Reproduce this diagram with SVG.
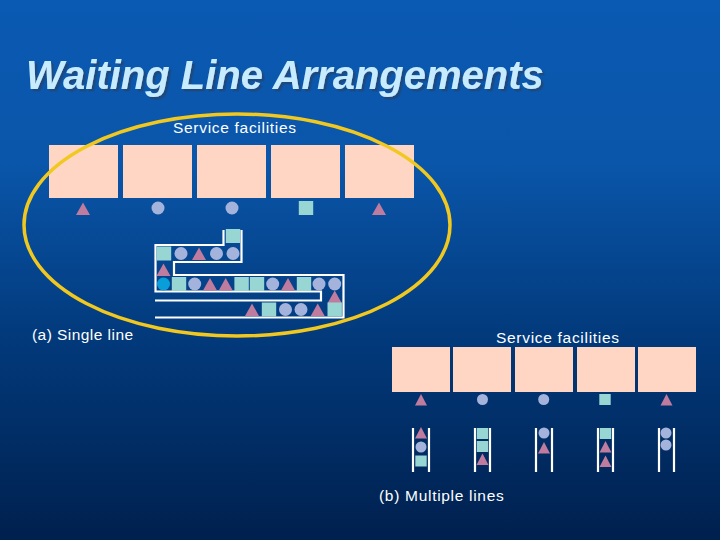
<svg xmlns="http://www.w3.org/2000/svg" width="720" height="540" viewBox="0 0 720 540">
<style>
text{font-family:"Liberation Sans",Arial,sans-serif}
.lbl{fill:#fff;font-size:15.500px;letter-spacing:.7px}
.title{font-size:40px;font-weight:bold;font-style:italic;fill:#c8ecff}
.fac{fill:#ffd6c4}
.wall{fill:none;stroke:#fff;stroke-width:2.2}
</style>
<defs>
<linearGradient id="bg" x1="0" y1="0" x2="0" y2="1">
<stop offset="0" stop-color="#0a59b2"/><stop offset=".3" stop-color="#0a56aa"/><stop offset=".62" stop-color="#023a7c"/><stop offset="1" stop-color="#00204e"/>
</linearGradient>
<filter id="sh" x="-5%" y="-20%" width="110%" height="140%"><feDropShadow dx="2.500" dy="2.500" stdDeviation=".6" flood-color="#1c4a80"/></filter>
<path id="t" d="M0-7 7 5.500H-7Z" fill="#c07c9e"/>
<circle id="c" r="6.500" fill="#a3b3dc"/>
<rect id="s" x="-7.200" y="-7" width="14.400" height="14" fill="#98d6d4"/>
<path id="t2" d="M0-6.500 6 5H-6Z" fill="#c07c9e"/>
<circle id="c2" r="5.500" fill="#a3b3dc"/>
<rect id="s2" x="-5.700" y="-5.500" width="11.400" height="11" fill="#98d6d4"/>
</defs>
<rect width="720" height="540" fill="url(#bg)"/>
<g id="title">
<text class="title" x="26" y="89" filter="url(#sh)">Waiting Line Arrangements</text>
</g>
<g id="facilities-a" class="fac">
<rect x="49" y="145" width="69" height="53"/><rect x="123" y="145" width="69" height="53"/><rect x="197" y="145" width="69" height="53"/><rect x="271" y="145" width="69" height="53"/><rect x="345" y="145" width="69" height="53"/>
</g>
<g id="facilities-b" class="fac">
<rect x="392" y="347" width="58" height="45"/><rect x="453" y="347" width="58" height="45"/><rect x="515" y="347" width="58" height="45"/><rect x="577" y="347" width="58" height="45"/><rect x="638" y="347" width="58" height="45"/>
</g>
<g id="highlight"><ellipse cx="237" cy="225" rx="213" ry="111" fill="none" stroke="#f0c820" stroke-width="3.500"/></g>
<g id="labels">
<text class="lbl" x="173" y="132.500">Service facilities</text>
<text class="lbl" x="32" y="339.500" style="letter-spacing:.45px">(a) Single line</text>
<text class="lbl" x="496" y="342.500">Service facilities</text>
<text class="lbl" x="379" y="500.500">(b) Multiple lines</text>
</g>
<g id="connectors" class="wall">
<path d="M223.500 230V245H155.500V291.500H321V300.500H155"/>
<path d="M241.500 230V262H174V275H343.500V317.500H155"/>
<path d="M413 428V472M429 428V472M475 428V472M490 428V472M536 428V472M552 428V472M598 428V472M613 428V472M659 428V472M674 428V472"/>
</g>
<g id="servers-a">
<use href="#t" x="83" y="209.500"/><use href="#c" x="158" y="208"/><use href="#c" x="232" y="208"/><use href="#s" x="306" y="208"/><use href="#t" x="379" y="209.500"/>
</g>
<g id="queue-a">
<use href="#s" x="233" y="236"/>
<use href="#s" x="164" y="253.500"/><use href="#c" x="181" y="253.500"/><use href="#t" x="199" y="254.500"/><use href="#c" x="216.500" y="253.500"/><use href="#c" x="233" y="253.500"/>
<use href="#t" x="163.500" y="270.500"/>
<circle cx="163.500" cy="284" r="6.500" fill="#0a9ed8"/><use href="#s" x="179" y="284"/><use href="#c" x="194.700" y="284"/><use href="#t" x="210" y="285"/><use href="#t" x="225.700" y="285"/><use href="#s" x="241.600" y="284"/><use href="#s" x="257" y="284"/><use href="#c" x="272.700" y="284"/><use href="#t" x="288" y="285"/><use href="#s" x="304" y="284"/><use href="#c" x="319" y="284"/><use href="#c" x="334.700" y="284"/>
<use href="#t" x="334.700" y="297.500"/>
<use href="#t" x="252" y="310.500"/><use href="#s" x="269" y="309.500"/><use href="#c" x="285.500" y="309.500"/><use href="#c" x="301" y="309.500"/><use href="#t" x="317.700" y="310.500"/><use href="#s" x="334.700" y="309.500"/>
</g>
<g id="servers-b">
<use href="#t2" x="421" y="400.500"/><use href="#c2" x="482.500" y="399.500"/><use href="#c2" x="543.700" y="399.500"/><use href="#s2" x="605" y="399.500"/><use href="#t2" x="666.500" y="400.500"/>
</g>
<g id="queues-b">
<use href="#t2" x="421" y="433.500"/><use href="#c2" x="421" y="447"/><use href="#s2" x="421" y="461"/>
<use href="#s2" x="482.500" y="433.500"/><use href="#s2" x="482.500" y="446.500"/><use href="#t2" x="482.500" y="460"/>
<use href="#c2" x="544" y="433"/><use href="#t2" x="544" y="448.500"/>
<use href="#s2" x="605.500" y="433.500"/><use href="#t2" x="605.500" y="447.500"/><use href="#t2" x="605.500" y="462"/>
<use href="#c2" x="666" y="433"/><use href="#c2" x="666" y="445"/>
</g>
</svg>
